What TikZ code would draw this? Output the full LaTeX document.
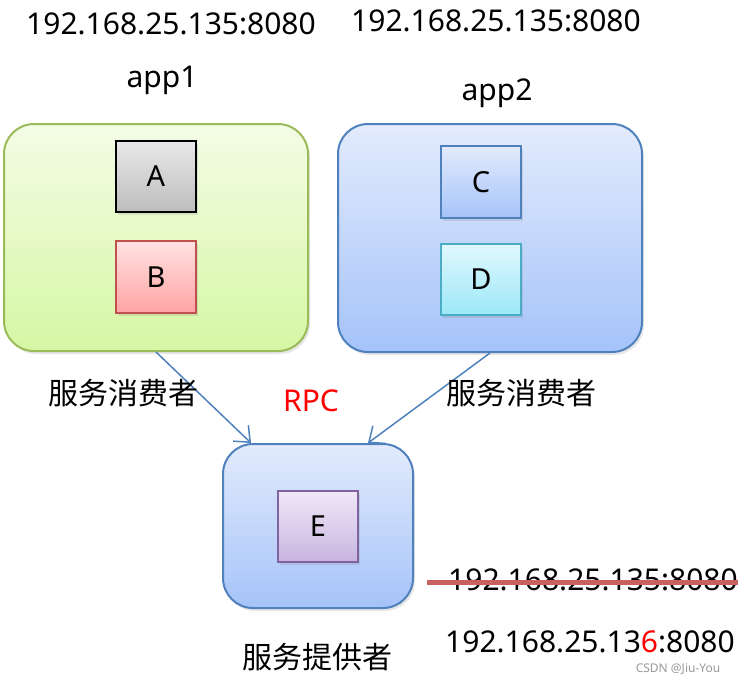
\documentclass[tikz,border=0pt]{standalone}
\usepackage{fontspec}
\setmainfont{Noto Sans}
\newfontfamily\cjk{Noto Sans CJK SC}
\usetikzlibrary{positioning, shadows, arrows.meta}
\definecolor{olivegreen}{HTML}{9BBB59}
\definecolor{appblue}{HTML}{4F81BD}
\definecolor{darkred}{HTML}{C0504D}
\definecolor{tealline}{HTML}{4BACC6}
\definecolor{violetline}{HTML}{8064A2}
\definecolor{greentop}{HTML}{F4FCE6}
\definecolor{greenbot}{HTML}{D6F7A4}
\definecolor{bluetop}{HTML}{E3EBFC}
\definecolor{bluebot}{HTML}{A5C3F9}
\definecolor{greytop}{HTML}{E8E8E8}
\definecolor{greybot}{HTML}{BDBDBD}
\definecolor{redtop}{HTML}{FFE2E2}
\definecolor{redbot}{HTML}{FFA3A3}
\definecolor{cyantop}{HTML}{E0F8FD}
\definecolor{cyanbot}{HTML}{9CE8F8}
\definecolor{violettop}{HTML}{F0E8F8}
\definecolor{violetbot}{HTML}{C8B4E0}
\tikzset{
    container/.style={draw, rectangle, rounded corners=30pt, line width=2pt, shading=axis, drop shadow={opacity=0.2, shadow xshift=2pt, shadow yshift=-3pt}},
    comp/.style={draw, rectangle, line width=2pt, minimum width=80pt, minimum height=71pt, font=\fontsize{29}{32}\selectfont, shading=axis, drop shadow={opacity=0.2, shadow xshift=2pt, shadow yshift=-3pt}},
    label/.style={font=\fontsize{30}{34}\selectfont, inner sep=0pt},
    cnlabel/.style={font=\cjk\fontsize{30}{34}\selectfont, inner sep=0pt},
    arrow/.style={-{Straight Barb[length=13pt, width=22pt, line width=1.5pt]}, line width=1.5pt, draw=appblue}
}
\begin{document}
\begin{tikzpicture}[x=1pt, y=-1pt]
    \useasboundingbox (0,0) rectangle (738,681);

    % containers
    \node (app1) [container, draw=olivegreen, top color=greentop, bottom color=greenbot, minimum width=304pt, minimum height=227pt] at (156,237.5) {};
    \node (app2) [container, draw=appblue, top color=bluetop, bottom color=bluebot, minimum width=304pt, minimum height=228pt] at (490,238) {};
    \node (provider) [container, draw=appblue, top color=bluetop, bottom color=bluebot, minimum width=190pt, minimum height=164pt] at (318,526) {};

    % components
    \node (compA) [comp, draw=black, top color=greytop, bottom color=greybot] at (156,176.5) {A};
    \node (compB) [comp, draw=darkred, top color=redtop, bottom color=redbot, minimum height=72pt] at (156,277) {B};
    \node (compC) [comp, draw=appblue, top color=bluetop, bottom color=bluebot, minimum height=72pt] at (481,182) {C};
    \node (compD) [comp, draw=tealline, top color=cyantop, bottom color=cyanbot] at (481,279.5) {D};
    \node (compE) [comp, draw=violetline, top color=violettop, bottom color=violetbot] at (318,526.5) {E};

    % addresses and names
    \node (ip1) [label] at (171,24) {192.168.25.135:8080};
    \node (ip2) [label] at (496,21) {192.168.25.135:8080};
    \node (name1) [label] at (162,80) {app1};
    \node (name2) [label] at (497,93) {app2};

    % calls
    \draw [arrow] (app1.south) -- ([xshift=-67pt]provider.north);
    \draw [arrow] (app2.south) -- ([xshift=50pt]provider.north);
    \node (consumer1) [cnlabel] at (123,393) {服务消费者};
    \node (consumer2) [cnlabel] at (521,393) {服务消费者};
    \node (rpc) [label, text=red] at (311,401) {RPC};
    \node (providerlabel) [cnlabel] at (317,657) {服务提供者};

    % changed address
    \node (oldip) [label] at (593,580) {192.168.25.135:8080};
    \draw [line width=5pt, darkred!90, drop shadow={opacity=0.2, shadow xshift=2pt, shadow yshift=-4pt}] ([xshift=-21pt, yshift=-2pt]oldip.west) -- ([xshift=4pt, yshift=-2pt]oldip.east);
    \node (newip) [label] at (590,642) {192.168.25.13\textcolor{red}{6}:8080};
    \node (mark) [font=\fontsize{12}{14}\selectfont, text=black!40, inner sep=0pt] at (678,669) {CSDN @Jiu-You};
\end{tikzpicture}
\end{document}
